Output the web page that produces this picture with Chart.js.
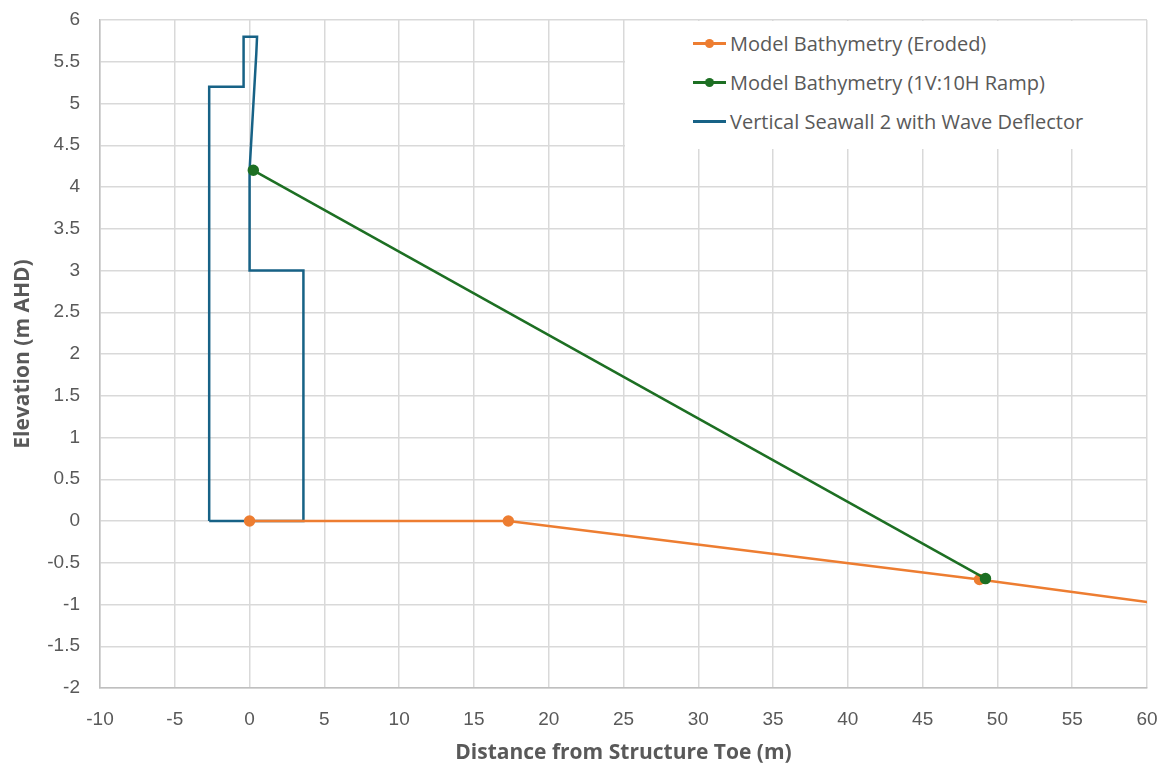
<!DOCTYPE html>
<html>
<head>
<meta charset="utf-8">
<script src="https://cdn.jsdelivr.net/npm/chart.js@4.4.1/dist/chart.umd.min.js"></script>
<style>
  body { margin: 0; background: #fff; }
  #wrap { position: relative; width: 1170px; height: 771px; }
  #legend {
    position: absolute; left: 625px; top: 21px; width: 521px; height: 128px;
    background: #fff; font-family: "Open Sans", sans-serif; font-size: 20px; color: #595959;
  }
  .item { position: absolute; left: 68px; height: 24px; display: flex; align-items: center; }
  .sym { position: relative; width: 33px; height: 24px; margin-right: 4px; }
  .sym .ln { position: absolute; left: 0; right: 0; top: 11px; height: 3px; }
  .sym .dot { position: absolute; left: 12px; top: 8px; width: 9px; height: 9px; border-radius: 50%; }
</style>
</head>
<body>
<div id="wrap">
  <canvas id="chart" width="1170" height="771"></canvas>
  <div id="legend"></div>
</div>
<script>
const erodedX = [0, 17.3, 48.8, 65];
const erodedY = [0, 0, -0.7, -1.09];

const rampX = [0.25, 49.2];
const rampY = [4.2, -0.69];

// wall outline, traced clockwise from the heel
const wallX = [-2.7, -2.7, -0.4, -0.4, 0.5, 0.45, 0, 0, 3.6, 3.6, -2.7];
const wallY = [0, 5.2, 5.2, 5.8, 5.8, 5.6, 4.2, 3, 3, 0, 0];

const seriesNames = [
  "Model Bathymetry (Eroded)",
  "Model Bathymetry (1V:10H Ramp)",
  "Vertical Seawall 2 with Wave Deflector"
];
const seriesColors = ["#ED7D31", "#1D6F23", "#176286"];

const xTicks = { min: -10, max: 60, step: 5 };
const yTicks = { min: -2, max: 6, step: 0.5 };

const toPoints = (xs, ys) => xs.map((x, i) => ({ x: x, y: ys[i] }));

const tickFont = { family: "'Liberation Sans', Arial, sans-serif", size: 19 };
const titleFont = { family: "'Open Sans', sans-serif", size: 21, weight: "bold" };

new Chart(document.getElementById("chart"), {
  type: "scatter",
  data: {
    datasets: [
      {
        label: seriesNames[0],
        data: toPoints(erodedX, erodedY),
        showLine: true,
        borderColor: seriesColors[0],
        backgroundColor: seriesColors[0],
        borderWidth: 2.5,
        pointRadius: 4.5,
        pointHoverRadius: 4.5,
        order: 1
      },
      {
        label: seriesNames[1],
        data: toPoints(rampX, rampY),
        showLine: true,
        borderColor: seriesColors[1],
        backgroundColor: seriesColors[1],
        borderWidth: 2.5,
        pointRadius: 4.5,
        pointHoverRadius: 4.5,
        order: 0
      },
      {
        label: seriesNames[2],
        data: toPoints(wallX, wallY),
        showLine: true,
        borderColor: seriesColors[2],
        backgroundColor: seriesColors[2],
        borderWidth: 2.5,
        pointRadius: 0,
        order: 2
      }
    ]
  },
  options: {
    responsive: false,
    animation: false,
    layout: { padding: { top: 20, right: 23, left: 0, bottom: 0 } },
    plugins: { legend: { display: false }, tooltip: { enabled: false } },
    scales: {
      x: {
        type: "linear",
        min: xTicks.min,
        max: xTicks.max,
        afterFit: s => { s.height = 83; s.paddingLeft = 0; s.paddingRight = 0; },
        ticks: { stepSize: xTicks.step, color: "#595959", font: tickFont, padding: 20, callback: v => String(v) },
        grid: { color: "#d9d9d9", lineWidth: 1.5, drawTicks: false },
        border: { color: "#bfbfbf", width: 1.5 },
        title: { display: true, text: "Distance from Structure Toe (m)", color: "#595959", font: titleFont, padding: { top: 6, bottom: 5 } }
      },
      y: {
        type: "linear",
        min: yTicks.min,
        max: yTicks.max,
        afterFit: s => { s.width = 100; s.paddingTop = 0; s.paddingBottom = 0; },
        ticks: { stepSize: yTicks.step, color: "#595959", font: tickFont, padding: 20, callback: v => String(v) },
        grid: { color: "#d9d9d9", lineWidth: 1.5, drawTicks: false },
        border: { color: "#bfbfbf", width: 1.5 },
        title: { display: true, text: "Elevation (m AHD)", color: "#595959", font: titleFont, padding: { top: 10, bottom: 0 } }
      }
    }
  }
});

// legend overlaid in the upper right of the plot
const legend = document.getElementById("legend");
seriesNames.forEach((name, i) => {
  const item = document.createElement("div");
  item.className = "item";
  item.style.top = (10 + i * 39) + "px";
  const dot = i < 2 ? `<div class="dot" style="background:${seriesColors[i]}"></div>` : "";
  item.innerHTML = `<div class="sym"><div class="ln" style="background:${seriesColors[i]}"></div>${dot}</div><span>${name}</span>`;
  legend.appendChild(item);
});
</script>
</body>
</html>
